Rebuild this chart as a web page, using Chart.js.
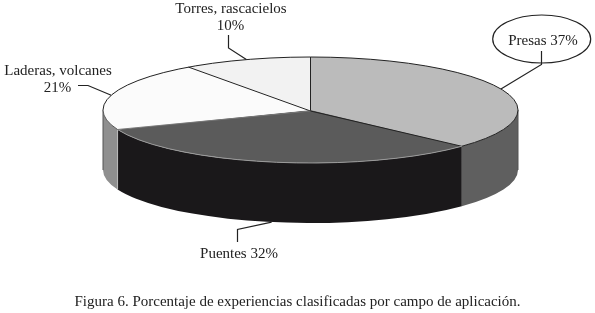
<!DOCTYPE html>
<html>
<head>
<meta charset="utf-8">
<title>Figura 6</title>
<script src="https://cdn.jsdelivr.net/npm/chart.js@4"></script>
<style>
  html, body { margin: 0; padding: 0; background: #fff; }
  canvas { display: block; }
</style>
</head>
<body>
<canvas id="pie" width="595" height="313"></canvas>
<script>
const categories = ['Presas', 'Puentes', 'Laderas, volcanes', 'Torres, rascacielos'];
const shares = [37, 32, 21, 10];
const caption = 'Figura 6. Porcentaje de experiencias clasificadas por campo de aplicación.';

const topColors = ['#bbbbbb', '#5b5b5b', '#fbfbfb', '#f2f2f2'];
const wallColors = ['#5f5f5f', '#1a181a', '#8f8f8f', '#777777'];

// the flat pie gets squashed onto this ellipse
const disc = { x: 310.5, y: 110, rx: 207.5, ry: 53, depth: 60 };
const serif = '"Liberation Serif", serif';
const ink = '#222';

function slices(chart) {
  return chart.getDatasetMeta(0).data;
}

function discPoint(angle, dy) {
  return [disc.x + disc.rx * Math.cos(angle), disc.y + disc.ry * Math.sin(angle) + (dy || 0)];
}

function midAngle(arc) {
  return (arc.startAngle + arc.endAngle) / 2;
}

function drawWalls(ctx, chart) {
  slices(chart).forEach((arc, i) => {
    // only the part of the side facing the viewer
    const from = Math.max(arc.startAngle, 0);
    const to = Math.min(arc.endAngle, Math.PI);
    if (to <= from) return;
    ctx.beginPath();
    ctx.ellipse(disc.x, disc.y, disc.rx, disc.ry, 0, from, to);
    ctx.ellipse(disc.x, disc.y + disc.depth, disc.rx, disc.ry, 0, to, from, true);
    ctx.closePath();
    ctx.fillStyle = wallColors[i];
    ctx.fill();
  });
  ctx.strokeStyle = '#555';
  ctx.lineWidth = 1;
  ctx.beginPath();
  ctx.moveTo(disc.x + disc.rx, disc.y);
  ctx.lineTo(disc.x + disc.rx, disc.y + disc.depth);
  ctx.moveTo(disc.x - disc.rx, disc.y);
  ctx.lineTo(disc.x - disc.rx, disc.y + disc.depth);
  ctx.stroke();
  // pale seam on the wall between Puentes and Laderas
  const seam = discPoint(slices(chart)[1].endAngle);
  ctx.strokeStyle = '#bbb';
  ctx.beginPath();
  ctx.moveTo(seam[0], seam[1]);
  ctx.lineTo(seam[0], seam[1] + disc.depth);
  ctx.stroke();
}

function drawOutlines(ctx, chart) {
  const arcs = slices(chart);
  ctx.lineWidth = 1;
  ctx.strokeStyle = '#222';
  ctx.beginPath();
  ctx.ellipse(disc.x, disc.y, disc.rx, disc.ry, 0, Math.PI, Math.PI * 2);
  ctx.ellipse(disc.x, disc.y, disc.rx, disc.ry, 0, 0, arcs[0].endAngle);
  ctx.stroke();
  [arcs[0].startAngle, arcs[3].startAngle, arcs[1].startAngle].forEach(a => {
    const p = discPoint(a);
    ctx.beginPath();
    ctx.moveTo(disc.x, disc.y + 1);
    ctx.lineTo(p[0], p[1]);
    ctx.stroke();
  });
  // lighter edge where the dark top meets the black wall
  ctx.strokeStyle = '#9a9a9a';
  ctx.beginPath();
  ctx.ellipse(disc.x, disc.y, disc.rx, disc.ry, 0, arcs[1].startAngle, arcs[1].endAngle);
  ctx.stroke();
  const p = discPoint(arcs[2].startAngle);
  ctx.strokeStyle = '#777';
  ctx.beginPath();
  ctx.moveTo(disc.x, disc.y + 1);
  ctx.lineTo(p[0], p[1]);
  ctx.stroke();
  ctx.strokeStyle = '#555';
  ctx.beginPath();
  ctx.ellipse(disc.x, disc.y, disc.rx, disc.ry, 0, arcs[2].startAngle, Math.PI);
  ctx.stroke();
}

function polyline(ctx, pts) {
  ctx.beginPath();
  pts.forEach((p, i) => i ? ctx.lineTo(p[0], p[1]) : ctx.moveTo(p[0], p[1]));
  ctx.stroke();
}

function drawLabels(ctx, chart) {
  const arcs = slices(chart);
  ctx.save();
  ctx.strokeStyle = ink;
  ctx.lineWidth = 1.2;
  polyline(ctx, [discPoint(midAngle(arcs[0])), [541.5, 64.5], [541.5, 51]]);
  polyline(ctx, [discPoint(midAngle(arcs[1]), disc.depth), [237.5, 229.5], [237.5, 242]]);
  polyline(ctx, [discPoint(midAngle(arcs[2])), [88, 85.5], [78, 85.5]]);
  polyline(ctx, [discPoint(midAngle(arcs[3])), [228.5, 48], [228.5, 35]]);

  ctx.beginPath();
  ctx.ellipse(541.7, 39, 49, 24, 0, 0, Math.PI * 2);
  ctx.stroke();

  ctx.fillStyle = ink;
  ctx.textAlign = 'center';
  ctx.textBaseline = 'middle';
  ctx.font = '15px ' + serif;
  ctx.fillText(categories[0] + ' ' + shares[0] + '%', 543, 41.5);
  ctx.fillText(categories[1] + ' ' + shares[1] + '%', 239, 254);
  ctx.fillText(categories[2], 58, 71);
  ctx.fillText(shares[2] + '%', 57.5, 88.5);
  ctx.fillText(categories[3], 231, 9);
  ctx.fillText(shares[3] + '%', 230.5, 26.5);
  ctx.restore();
}

const squashPlugin = {
  id: 'squash',
  beforeDatasetsDraw(chart) {
    const ctx = chart.ctx;
    drawWalls(ctx, chart);
    const arc = slices(chart)[0];
    ctx.save();
    ctx.translate(disc.x, disc.y);
    ctx.scale(disc.rx / arc.outerRadius, disc.ry / arc.outerRadius);
    ctx.translate(-arc.x, -arc.y);
  },
  afterDatasetsDraw(chart) {
    chart.ctx.restore();
    drawOutlines(chart.ctx, chart);
    drawLabels(chart.ctx, chart);
  }
};

new Chart(document.getElementById('pie'), {
  type: 'pie',
  data: {
    labels: categories,
    datasets: [{
      data: shares,
      backgroundColor: topColors,
      borderWidth: 0,
      clip: false
    }]
  },
  plugins: [squashPlugin],
  options: {
    responsive: false,
    animation: false,
    layout: { padding: { top: 20, bottom: 0, left: 20, right: 20 } },
    plugins: {
      legend: { display: false },
      tooltip: { enabled: false },
      title: {
        display: true,
        position: 'bottom',
        text: caption,
        color: ink,
        font: { family: serif, size: 15, weight: 'normal' },
        padding: { top: 4, bottom: 2 }
      }
    }
  }
});
</script>
</body>
</html>
